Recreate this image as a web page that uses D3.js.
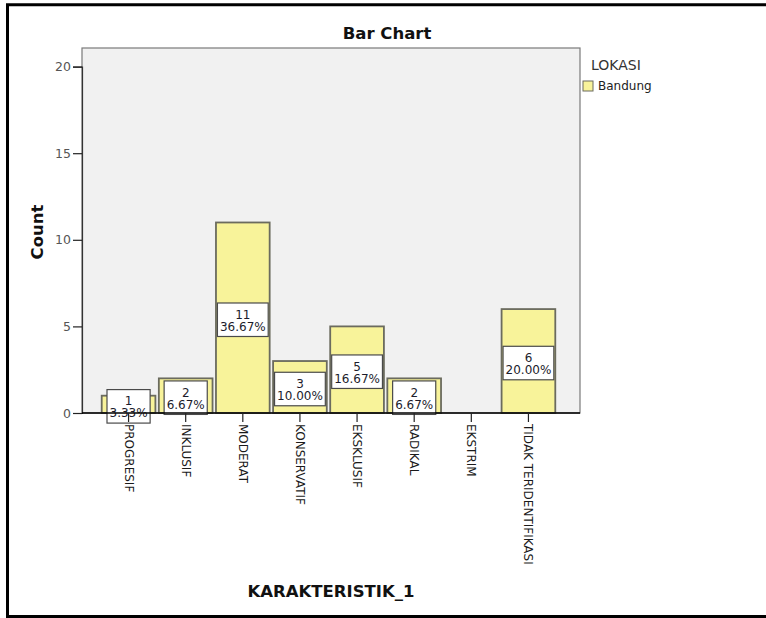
<!DOCTYPE html>
<html>
<head>
<meta charset="utf-8">
<script src="https://cdn.jsdelivr.net/npm/d3@7"></script>
<style>
  body { margin: 0; background: #fff; overflow: hidden; }
  svg { display: block; font-family: "DejaVu Sans", sans-serif; }
</style>
</head>
<body>
<div id="chart"></div>
<script>
// data
var categories = ["PROGRESIF", "INKLUSIF", "MODERAT", "KONSERVATIF", "EKSKLUSIF", "RADIKAL", "EKSTRIM", "TIDAK TERIDENTIFIKASI"];
var counts = [1, 2, 11, 3, 5, 2, 0, 6];
var yTicks = [0, 5, 10, 15, 20];
var legendTitle = "LOKASI";
var legendItems = ["Bandung"];

var width = 766, height = 618;
var plot = {left: 82, right: 580, top: 48, bottom: 413};

var svg = d3.select("#chart").append("svg")
  .attr("width", width)
  .attr("height", height);

// outer frame: left, top and bottom only (right side runs off the picture)
svg.append("path")
  .attr("d", "M" + width + ",4.8H7.5V616.6H" + width)
  .attr("fill", "none")
  .attr("stroke", "#000")
  .attr("stroke-width", 3);

var x = d3.scaleBand()
  .domain(categories)
  .range([100, 557])
  .paddingInner(0.06)
  .paddingOuter(0.03);

var y = d3.scaleLinear()
  .domain([0, 20])
  .range([plot.bottom, 66.6]);

var total = d3.sum(counts);
var pct = function(v) { return (v / total * 100).toFixed(2) + "%"; };

// plot background
svg.append("rect")
  .attr("x", plot.left).attr("y", plot.top)
  .attr("width", plot.right - plot.left)
  .attr("height", plot.bottom - plot.top)
  .attr("fill", "#f1f1f1")
  .attr("stroke", "#7a7a7a")
  .attr("stroke-width", 1.2);

// title
svg.append("text")
  .attr("x", 387).attr("y", 39)
  .attr("text-anchor", "middle")
  .style("font-size", "16.5px")
  .style("font-weight", "bold")
  .attr("fill", "#111")
  .text("Bar Chart");

var data = categories.map(function(c, i) { return {cat: c, value: counts[i]}; })
  .filter(function(d) { return d.value > 0; });

// bars
svg.selectAll("rect.bar")
  .data(data)
  .enter().append("rect")
  .attr("class", "bar")
  .attr("x", function(d) { return x(d.cat); })
  .attr("y", function(d) { return y(d.value); })
  .attr("width", x.bandwidth())
  .attr("height", function(d) { return y(0) - y(d.value); })
  .attr("fill", "#f8f39a")
  .attr("stroke", "#6b6b5e")
  .attr("stroke-width", 1.8);

// value labels: count + percent in a white box at mid height
var lab = svg.selectAll("g.lab")
  .data(data)
  .enter().append("g")
  .attr("class", "lab")
  .attr("transform", function(d) {
    return "translate(" + (x(d.cat) + x.bandwidth() / 2) + "," + (y(d.value / 2) + 2) + ")";
  });

var boxH = 33.5;
lab.append("rect").attr("class", "box");
var lt = lab.append("text")
  .attr("text-anchor", "middle")
  .style("font-size", "12px")
  .attr("fill", "#1c1c2c");
lt.append("tspan")
  .attr("x", 0).attr("y", -1)
  .text(function(d) { return d.value; });
lt.append("tspan")
  .attr("class", "l2")
  .attr("x", 0).attr("y", 11)
  .text(function(d) { return pct(d.value); });
lab.each(function() {
  var g = d3.select(this);
  var tw = g.select("tspan.l2").node().getComputedTextLength();
  var bw = Math.min(x.bandwidth() - 2, tw + 5);
  g.select("rect.box")
    .attr("x", -bw / 2).attr("y", -boxH / 2)
    .attr("width", bw).attr("height", boxH)
    .attr("fill", "#fff")
    .attr("stroke", "#4a4a4a")
    .attr("stroke-width", 1.2);
});

// y axis
var yAxis = svg.append("g")
  .attr("transform", "translate(" + plot.left + ",0)")
  .call(d3.axisLeft(y).tickValues(yTicks).tickSize(9).tickPadding(2));
yAxis.select(".domain").attr("stroke", "#333").attr("stroke-width", 1.2);
yAxis.selectAll(".tick line").attr("stroke", "#222").attr("stroke-width", 1.2);
yAxis.selectAll(".tick text")
  .style("font-size", "12.5px")
  .style("font-family", "DejaVu Sans, sans-serif")
  .attr("fill", "#555");

// x axis
var xAxis = svg.append("g")
  .attr("transform", "translate(0," + plot.bottom + ")")
  .call(d3.axisBottom(x).tickSize(9).tickSizeOuter(0).tickPadding(2));
xAxis.select(".domain")
  .attr("d", "M" + plot.left + ",0H" + plot.right)
  .attr("stroke", "#000").attr("stroke-width", 1.5);
xAxis.selectAll(".tick line").attr("stroke", "#222").attr("stroke-width", 1.2);
xAxis.selectAll(".tick text")
  .attr("text-anchor", "start")
  .attr("dy", null)
  .attr("y", 0)
  .attr("dominant-baseline", "central")
  .attr("transform", "translate(0,11) rotate(90)")
  .style("font-size", "12px")
  .style("font-family", "DejaVu Sans, sans-serif")
  .attr("fill", "#1a1a1a");

// axis titles
svg.append("text")
  .attr("transform", "translate(43,232) rotate(-90)")
  .attr("text-anchor", "middle")
  .style("font-size", "16.5px")
  .style("font-weight", "bold")
  .attr("fill", "#111")
  .text("Count");

svg.append("text")
  .attr("x", (plot.left + plot.right) / 2).attr("y", 597)
  .attr("text-anchor", "middle")
  .style("font-size", "16.5px")
  .style("font-weight", "bold")
  .attr("fill", "#111")
  .text("KARAKTERISTIK_1");

// legend
svg.append("text")
  .attr("x", 591).attr("y", 70)
  .style("font-size", "14px")
  .attr("fill", "#333")
  .text(legendTitle);

var leg = svg.selectAll("g.leg")
  .data(legendItems)
  .enter().append("g")
  .attr("class", "leg")
  .attr("transform", function(d, i) { return "translate(583," + (81 + i * 14) + ")"; });
leg.append("rect")
  .attr("width", 10).attr("height", 10)
  .attr("fill", "#f8f39a")
  .attr("stroke", "#6b6b5e");
leg.append("text")
  .attr("x", 15).attr("y", 9)
  .style("font-size", "12px")
  .attr("fill", "#222")
  .text(function(d) { return d; });
</script>
</body>
</html>
